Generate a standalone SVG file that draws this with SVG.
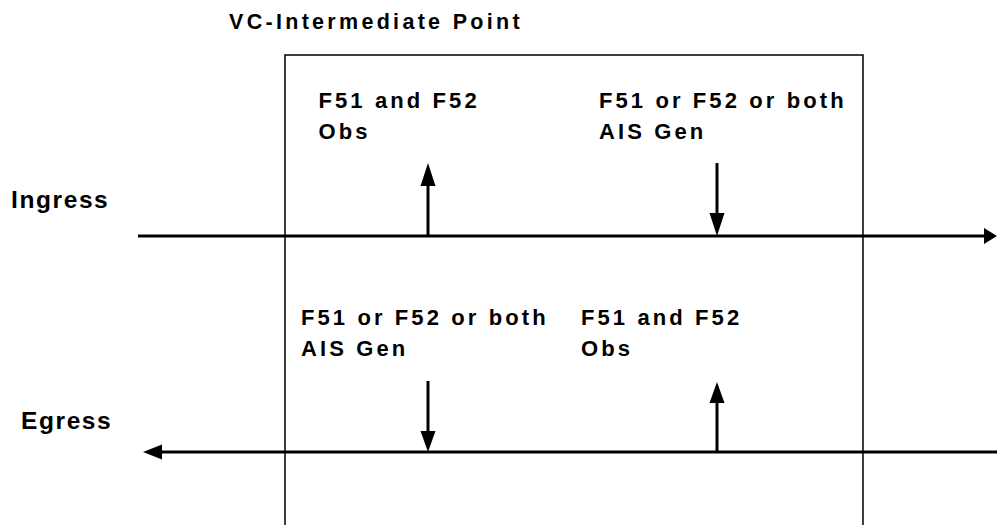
<svg xmlns="http://www.w3.org/2000/svg" width="997" height="525" viewBox="0 0 997 525">
  <style>
    .lbl { font-family: "Liberation Sans", Arial, sans-serif; font-weight: bold; font-size: 22px; letter-spacing: 3.1px; fill: #000; }
    .title { font-family: "Liberation Sans", Arial, sans-serif; font-weight: bold; font-size: 21.5px; letter-spacing: 3.3px; fill: #000; }
    .side { font-family: "Liberation Sans", Arial, sans-serif; font-weight: bold; font-size: 24.5px; letter-spacing: 1.6px; fill: #000; }
    .flow { stroke: #000; stroke-width: 3; fill: none; }
    .box { stroke: #000; stroke-width: 1.5; fill: none; }
    .head { fill: #000; stroke: none; }
  </style>
  <rect width="997" height="525" fill="#fff"/>
  <g id="vc-intermediate-point">
    <path class="box" d="M285,525 V55 H863 V525"/>
    <text class="title" x="229" y="28.5">VC-Intermediate Point</text>
  </g>
  <g id="ingress-label"><text class="side" x="11" y="207.5">Ingress</text></g>
  <g id="egress-label"><text class="side" x="21" y="428.5">Egress</text></g>
  <g id="ingress-obs">
    <text class="lbl" x="318.5" y="108">F51 and F52</text>
    <text class="lbl" x="318.5" y="138.5">Obs</text>
  </g>
  <g id="ingress-gen">
    <text class="lbl" x="599" y="108">F51 or F52 or both</text>
    <text class="lbl" x="599" y="138.5">AIS Gen</text>
  </g>
  <g id="egress-gen">
    <text class="lbl" x="301" y="325">F51 or F52 or both</text>
    <text class="lbl" x="301" y="355.5">AIS Gen</text>
  </g>
  <g id="egress-obs">
    <text class="lbl" x="581" y="325">F51 and F52</text>
    <text class="lbl" x="581" y="355.5">Obs</text>
  </g>
  <g id="connectors">
    <line class="flow" x1="138" y1="236" x2="986" y2="236"/>
    <polygon class="head" points="997,236 984,228 984,244"/>
    <line class="flow" x1="160" y1="452" x2="997" y2="452"/>
    <polygon class="head" points="143,452 162,444.5 162,459.5"/>
    <line class="flow" x1="428" y1="236" x2="428" y2="184"/>
    <polygon class="head" points="428,163 420.5,186 435.5,186"/>
    <line class="flow" x1="717" y1="163" x2="717" y2="215"/>
    <polygon class="head" points="717,236 709.5,213 724.5,213"/>
    <line class="flow" x1="428" y1="381" x2="428" y2="433"/>
    <polygon class="head" points="428,452 420.5,431 435.5,431"/>
    <line class="flow" x1="717" y1="452" x2="717" y2="401"/>
    <polygon class="head" points="717,382 709.5,403 724.5,403"/>
  </g>
</svg>
